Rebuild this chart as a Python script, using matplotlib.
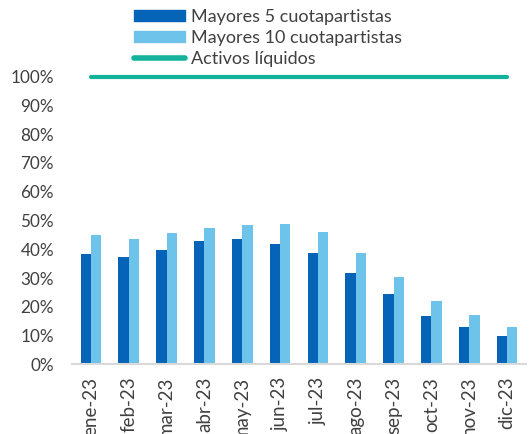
import numpy as np
import matplotlib.pyplot as plt
from matplotlib.patches import Patch
from matplotlib.lines import Line2D

plt.rcParams['font.family'] = ['Lato', 'DejaVu Sans']

# data
months = ['ene-23', 'feb-23', 'mar-23', 'abr-23', 'may-23', 'jun-23',
          'jul-23', 'ago-23', 'sep-23', 'oct-23', 'nov-23', 'dic-23']
top5 = [38.2, 37.3, 39.9, 42.9, 43.5, 42.0, 38.7, 31.6, 24.3, 16.7, 13.0, 9.7]
top10 = [45.0, 43.6, 45.7, 47.3, 48.4, 48.9, 45.9, 38.8, 30.3, 22.0, 17.2, 13.0]
liquid = [100] * 12

c_dark = '#0563B8'
c_light = '#6EC3EA'
c_line = '#13B29A'
c_text = '#404040'

W, H = 530, 434
fig = plt.figure(figsize=(W / 100, H / 100), dpi=100)
ax = fig.add_axes([72 / W, 1 - 364.3 / H, (526 - 72) / W, (364.3 - 76.7) / H])

x = np.arange(len(months))
bw = 0.275
ax.bar(x - bw / 2, top5, bw, color=c_dark, label='Mayores 5 cuotapartistas')
ax.bar(x + bw / 2, top10, bw, color=c_light, label='Mayores 10 cuotapartistas')
ax.plot(x, liquid, color=c_line, lw=3, solid_capstyle='round', clip_on=False,
        label='Activos líquidos')

ax.set_xlim(-0.5, len(months) - 0.5)
ax.set_ylim(0, 100)
ax.set_yticks(np.arange(0, 101, 10))
ax.set_yticklabels([f'{v}%' for v in range(0, 101, 10)])
ax.set_xticks(x)
ax.set_xticklabels(months, rotation=90)

for s in ['top', 'right', 'left']:
    ax.spines[s].set_visible(False)
ax.spines['bottom'].set_color('#D9D9D9')
ax.spines['bottom'].set_linewidth(1.5)
ax.tick_params(axis='both', length=0, colors=c_text)
ax.tick_params(axis='y', pad=13, labelsize=12.3)
ax.tick_params(axis='x', pad=9, labelsize=13.5)

handles = [Patch(color=c_dark), Patch(color=c_light),
           Line2D([0], [0], color=c_line, lw=4, solid_capstyle='round')]
labels = ['Mayores 5 cuotapartistas', 'Mayores 10 cuotapartistas', 'Activos líquidos']
leg = fig.legend(handles, labels, loc='upper left',
                 bbox_to_anchor=(134 / W, 1 - 9 / H), frameon=False,
                 fontsize=13, handlelength=2.8, handleheight=0.6,
                 handletextpad=0.35, labelspacing=0.28, borderpad=0,
                 borderaxespad=0)
for t in leg.get_texts():
    t.set_color(c_text)

fig.savefig('out.png', dpi=100)
